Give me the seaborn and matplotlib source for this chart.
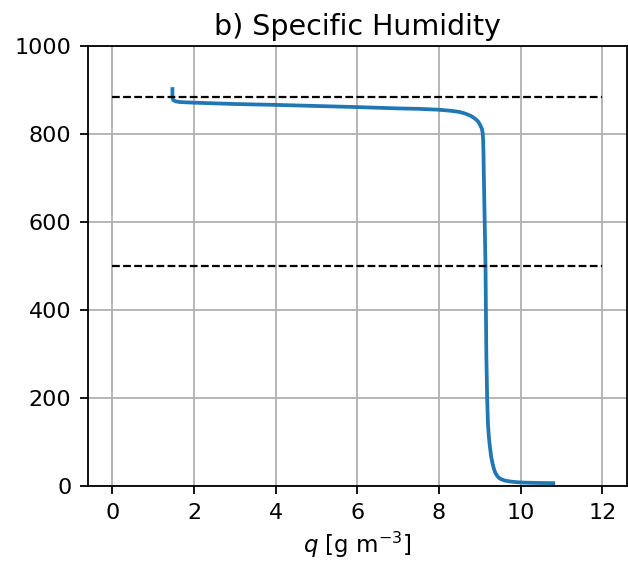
import matplotlib
matplotlib.use("Agg")
import matplotlib.pyplot as plt
import seaborn as sns
import pandas as pd

# profile: specific humidity q [g m^-3] vs height z
z = [902, 885, 879, 876, 874, 872.5, 871.8, 871, 868, 866, 863.5, 861, 858, 857,
     855, 852.5, 850, 846, 841, 835, 828, 820, 812, 803, 790, 760, 700, 600, 500,
     400, 300, 200, 170, 140, 115, 95, 80, 66, 52, 41, 32, 25, 19, 15, 12, 10,
     8.5, 7.5, 6.8, 6.3]
q = [1.47, 1.47, 1.48, 1.50, 1.55, 1.65, 1.8, 2.0, 3.0, 4.0, 5.0, 6.0, 7.0, 7.5,
     8.0, 8.3, 8.5, 8.65, 8.78, 8.88, 8.96, 9.01, 9.05, 9.07, 9.08, 9.09, 9.1, 9.12, 9.14,
     9.15, 9.16, 9.18, 9.19, 9.2, 9.22, 9.24, 9.26, 9.28, 9.31, 9.34, 9.37, 9.41, 9.46,
     9.53, 9.62, 9.75, 9.9, 10.1, 10.4, 10.8]

dash_levels = [884, 500]
dash_x = [0, 12]

df = pd.DataFrame({"q": q, "z": z})

fig = plt.figure(figsize=(6.28, 5.67), dpi=100)
ax = fig.add_axes([0.140, 0.143, 0.858, 0.776])

sns.lineplot(data=df, x="q", y="z", sort=False, estimator=None, ax=ax,
             color="#1f77b4", linewidth=2.7)
for lv in dash_levels:
    ax.plot(dash_x, [lv, lv], "k--", linewidth=1.6, dashes=(3.5, 1.5))

ax.set_ylim(0, 1000)
ax.set_xticks([0, 2, 4, 6, 8, 10, 12])
ax.set_yticks([0, 200, 400, 600, 800, 1000])
ax.grid(True, color="#b0b0b0", linewidth=1.3)
ax.set_axisbelow(True)
ax.tick_params(labelsize=16, length=6, width=1.3, pad=6)
ax.set_xlabel("$q$ [g m$^{-3}$]", fontsize=16.5, labelpad=5)
ax.set_ylabel("")
ax.set_title("b) Specific Humidity", fontsize=20.5, pad=8)
for s in ax.spines.values():
    s.set_linewidth(1.3)

fig.savefig("out.png", dpi=100)
